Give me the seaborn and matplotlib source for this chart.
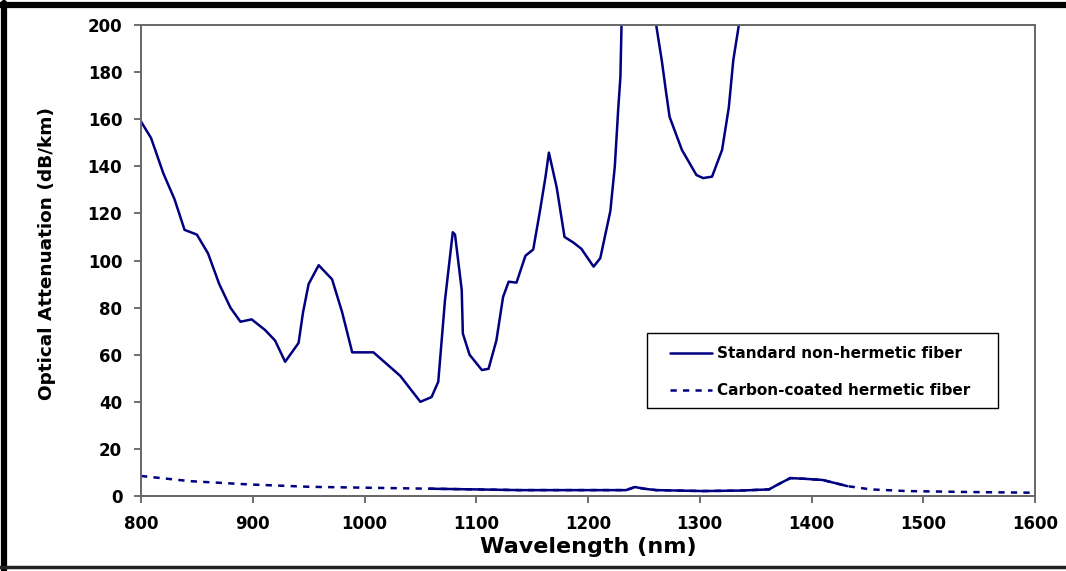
import matplotlib
matplotlib.use("Agg")
import matplotlib.pyplot as plt
import numpy as np
import pandas as pd
import seaborn as sns
from matplotlib.lines import Line2D
from matplotlib.patches import Rectangle

# standard non-hermetic fiber (goes off scale around 1230-1262 nm and after 1335 nm)
std_wl = [800, 809, 820, 830, 839, 850, 860, 870, 880, 889, 899, 911, 920, 929, 941,
          945, 950, 959, 971, 980, 989, 1008, 1020, 1032, 1050, 1060, 1066, 1072, 1079,
          1081, 1087, 1088, 1094, 1105, 1111, 1118, 1124, 1129, 1136, 1144, 1151, 1157,
          1162, 1165, 1172, 1179, 1187, 1194, 1205, 1211, 1220, 1224, 1227, 1229, 1230,
          1245, 1261, 1266, 1270, 1273, 1284, 1297, 1303, 1311, 1320, 1326, 1330, 1335, 1338]
std_att = [159, 152, 137, 126, 113, 111, 103, 90, 80, 74, 75, 70.5, 66, 57, 65,
           78, 90, 98, 92, 78, 61, 61, 56, 51, 40, 42, 48.5, 83, 112,
           111, 87.5, 69, 60, 53.5, 54, 66, 84.5, 91, 90.6, 102, 104.7, 121,
           135.6, 145.8, 131, 110, 107.6, 105, 97.4, 101, 121, 140, 164, 178, 200,
           330, 200, 185, 171, 161, 147, 136.3, 135, 135.6, 147, 165, 185, 200, 215]

# carbon-coated hermetic fiber
herm_wl = [800, 844, 897, 951, 1004, 1058, 1100, 1138, 1234, 1242, 1250, 1261, 1303,
           1336, 1362, 1370, 1381, 1394, 1410, 1432, 1453, 1485, 1539, 1597, 1600]
herm_att = [8.5, 6.3, 4.9, 3.9, 3.5, 3.1, 2.8, 2.5, 2.5, 3.8, 3.1, 2.5, 2.1,
            2.3, 2.8, 4.9, 7.6, 7.3, 6.8, 4.2, 2.8, 2.1, 1.7, 1.4, 1.4]
solid_from, solid_to = 1058, 1432

navy = "#000080"

sns.set_style("ticks")
plt.rcParams["font.family"] = ["DejaVu Sans"]
plt.rcParams["font.weight"] = "bold"
plt.rcParams["text.color"] = "black"

df_std = pd.DataFrame({"wl": std_wl, "att": std_att})
df_herm = pd.DataFrame({"wl": herm_wl, "att": herm_att})
df_mid = df_herm[(df_herm["wl"] >= solid_from) & (df_herm["wl"] <= solid_to)]

fig = plt.figure(figsize=(10.66, 5.71), dpi=100)
ax = fig.add_axes([141 / 1066, 75 / 571, 894 / 1066, 471 / 571])

sns.lineplot(data=df_std, x="wl", y="att", ax=ax, color=navy, linewidth=1.8,
             sort=False, estimator=None, label="Standard non-hermetic fiber")
sns.lineplot(data=df_herm, x="wl", y="att", ax=ax, color=navy, linewidth=1.8,
             linestyle=(0, (2.5, 2.5)), sort=False, estimator=None,
             label="Carbon-coated hermetic fiber")
sns.lineplot(data=df_mid, x="wl", y="att", ax=ax, color=navy, linewidth=1.8,
             sort=False, estimator=None, legend=False)

ax.set_xlim(800, 1600)
ax.set_ylim(0, 200)
ax.set_xticks(np.arange(800, 1601, 100))
ax.set_yticks(np.arange(0, 201, 20))
ax.tick_params(axis="both", direction="out", length=5, width=1.2, color="#555555",
               labelsize=12, pad=8.5, labelcolor="black")
for lbl in ax.get_xticklabels() + ax.get_yticklabels():
    lbl.set_fontweight("bold")
for sp in ax.spines.values():
    sp.set_visible(True)
    sp.set_color("#666666")
    sp.set_linewidth(1.4)

ax.set_xlabel("Wavelength (nm)", fontsize=16, fontweight="bold", labelpad=3, color="black")
ax.set_ylabel("Optical Attenuation (dB/km)", fontsize=13.3, fontweight="bold", color="black")
ax.yaxis.set_label_coords(-0.095, 0.515)

# legend box drawn separately so the entries can sit with the original padding
ax.add_patch(Rectangle((0.566, 0.187), 0.393, 0.159, transform=ax.transAxes,
                       facecolor="white", edgecolor="black", linewidth=1.0, zorder=4))
leg = ax.legend(loc="upper left", bbox_to_anchor=(0.5917, 0.318), frameon=False,
                fontsize=11, handlelength=2.75, handletextpad=0.33,
                labelspacing=1.42, borderpad=0, borderaxespad=0)
leg.set_zorder(5)
for t in leg.get_texts():
    t.set_fontweight("bold")
    t.set_color("black")

# outer frame of the picture
fig.add_artist(Line2D([0, 1], [0.992, 0.992], transform=fig.transFigure, color="black", linewidth=4.5))
fig.add_artist(Line2D([0.004, 0.004], [0.0, 0.995], transform=fig.transFigure, color="black", linewidth=4.5))
fig.add_artist(Line2D([0, 1], [0.007, 0.007], transform=fig.transFigure, color="#222222", linewidth=2.5))

fig.savefig("out.png", dpi=100)
